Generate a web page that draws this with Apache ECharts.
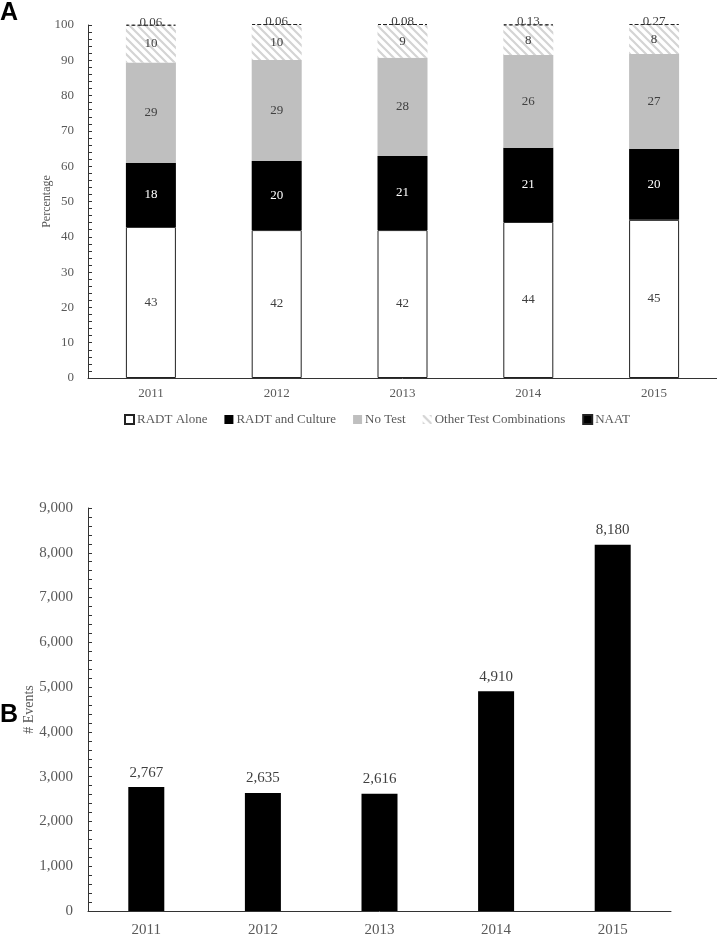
<!DOCTYPE html>
<html>
<head>
<meta charset="utf-8">
<script src="https://cdn.jsdelivr.net/npm/echarts@6/dist/echarts.min.js"></script>
<style>
html,body{margin:0;padding:0;background:#fff;}
#chart{width:717px;height:938px;}
</style>
</head>
<body>
<div id="chart"></div>
<script>
// ---- Data (panel A: percentages by test type) ----
var years = ['2011', '2012', '2013', '2014', '2015'];
var radtAlone = [42.8, 41.9, 41.9, 44.2, 44.8];
var radtCulture = [18.1, 19.6, 21.0, 21.0, 20.1];
var noTest = [28.5, 28.6, 27.8, 26.3, 26.9];
var otherCombos = [10.4, 9.9, 9.3, 8.4, 8.2];
var naat = [0.06, 0.06, 0.08, 0.13, 0.27];
// ---- Data (panel B: number of events) ----
var events = [2767, 2635, 2616, 4910, 8180];

var serif = '"Liberation Serif", "DejaVu Serif", serif';
var txt = '#595959';
var axisCol = '#333';

function hatch() {
  var s = 8;
  var c = document.createElement('canvas');
  c.width = s; c.height = s;
  var g = c.getContext('2d');
  g.fillStyle = '#fff';
  g.fillRect(0, 0, s, s);
  g.strokeStyle = '#d4d4d4';
  g.lineWidth = 2.2;
  g.beginPath();
  g.moveTo(-2, -2); g.lineTo(s + 2, s + 2);
  g.moveTo(-2 - s, -2); g.lineTo(2, s + 2);
  g.moveTo(s - 2, -2); g.lineTo(2 * s + 2, s + 2);
  g.stroke();
  return c;
}

function roundLbl(p) { return Math.round(p.value); }

var chart = echarts.init(document.getElementById('chart'), null, {renderer: 'canvas'});
var barW = 50;
var option = {
  animation: false,
  backgroundColor: '#fff',
  title: [
    {text: 'A', left: 0, top: 1, padding: 0, textStyle: {fontFamily: '"Liberation Sans", Arial, sans-serif', fontWeight: 'bold', fontSize: 25, color: '#000'}},
    {text: 'B', left: 0, top: 703, padding: 0, textStyle: {fontFamily: '"Liberation Sans", Arial, sans-serif', fontWeight: 'bold', fontSize: 25, color: '#000'}}
  ],
  legend: {
    data: ['RADT Alone', 'RADT and Culture', 'No Test', 'Other Test Combinations', 'NAAT'],
    left: 119, top: 408,
    itemWidth: 9, itemHeight: 9, itemGap: 17,
    textStyle: {fontFamily: serif, fontSize: 13, color: txt, padding: [0, 0, 0, -2]},
    icon: 'rect'
  },
  grid: [
    {left: 88, top: 25, width: 630, height: 353},
    {left: 88, top: 508, width: 583, height: 404}
  ],
  xAxis: [
    {type: 'category', gridIndex: 0, data: years,
      axisLine: {lineStyle: {color: axisCol, width: 1}},
      axisTick: {show: false},
      axisLabel: {fontFamily: serif, fontSize: 13, color: txt, margin: 9}},
    {type: 'category', gridIndex: 1, data: years,
      axisLine: {lineStyle: {color: axisCol, width: 1}},
      axisTick: {show: false},
      axisLabel: {fontFamily: serif, fontSize: 15, color: txt, margin: 12}}
  ],
  yAxis: [
    {type: 'value', gridIndex: 0, min: 0, max: 100, interval: 10,
      name: 'Percentage', nameLocation: 'middle', nameGap: 35, nameMoveOverlap: false,
      nameTextStyle: {fontFamily: serif, fontSize: 12, color: txt},
      axisLine: {show: true, lineStyle: {color: axisCol, width: 1}},
      axisTick: {show: true, inside: true, length: 4, lineStyle: {color: axisCol}},
      minorTick: {show: true, splitNumber: 5, length: 4, lineStyle: {color: axisCol}},
      splitLine: {show: false},
      axisLabel: {fontFamily: serif, fontSize: 13, color: txt, margin: 14}},
    {type: 'value', gridIndex: 1, min: 0, max: 9000, interval: 1000,
      name: '# Events', nameLocation: 'middle', nameGap: 52, nameMoveOverlap: false,
      nameTextStyle: {fontFamily: serif, fontSize: 14, color: txt},
      axisLine: {show: true, lineStyle: {color: axisCol, width: 1}},
      axisTick: {show: true, inside: true, length: 4, lineStyle: {color: axisCol}},
      minorTick: {show: true, splitNumber: 5, length: 4, lineStyle: {color: axisCol}},
      splitLine: {show: false},
      axisLabel: {fontFamily: serif, fontSize: 15, color: txt, margin: 15,
        formatter: function (v) { return v.toLocaleString('en-US'); }}}
  ],
  series: [
    {name: 'RADT Alone', type: 'bar', stack: 'a', xAxisIndex: 0, yAxisIndex: 0, barWidth: barW,
      data: radtAlone,
      itemStyle: {color: '#fff', borderColor: '#222', borderWidth: 1},
      label: {show: true, position: 'inside', formatter: roundLbl, fontFamily: serif, fontSize: 13, color: '#404040'}},
    {name: 'RADT and Culture', type: 'bar', stack: 'a', xAxisIndex: 0, yAxisIndex: 0, barWidth: barW,
      data: radtCulture,
      itemStyle: {color: '#000'},
      label: {show: true, position: 'inside', formatter: roundLbl, fontFamily: serif, fontSize: 13, color: '#fff'}},
    {name: 'No Test', type: 'bar', stack: 'a', xAxisIndex: 0, yAxisIndex: 0, barWidth: barW,
      data: noTest,
      itemStyle: {color: '#bfbfbf'},
      label: {show: true, position: 'inside', formatter: roundLbl, fontFamily: serif, fontSize: 13, color: '#404040'}},
    {name: 'Other Test Combinations', type: 'bar', stack: 'a', xAxisIndex: 0, yAxisIndex: 0, barWidth: barW,
      data: otherCombos,
      itemStyle: {color: {image: hatch(), repeat: 'repeat'}},
      label: {show: true, position: 'inside', formatter: roundLbl, fontFamily: serif, fontSize: 13, color: '#404040'}},
    {name: 'NAAT', type: 'bar', stack: 'a', xAxisIndex: 0, yAxisIndex: 0, barWidth: barW, barMinHeight: 1, clip: false,
      data: naat,
      itemStyle: {color: '#000', borderColor: '#222', borderWidth: 1, borderType: [3, 3]},
      label: {show: true, position: 'top', distance: -4, fontFamily: serif, fontSize: 13, color: '#404040',
        formatter: function (p) { return p.value.toFixed(2); }}},
    {name: 'Events', type: 'bar', xAxisIndex: 1, yAxisIndex: 1, barWidth: 36,
      data: events,
      itemStyle: {color: '#000'},
      label: {show: true, position: 'top', distance: 7, fontFamily: serif, fontSize: 15, color: '#404040',
        formatter: function (p) { return p.value.toLocaleString('en-US'); }}}
  ]
};
chart.setOption(option);
</script>
</body>
</html>
